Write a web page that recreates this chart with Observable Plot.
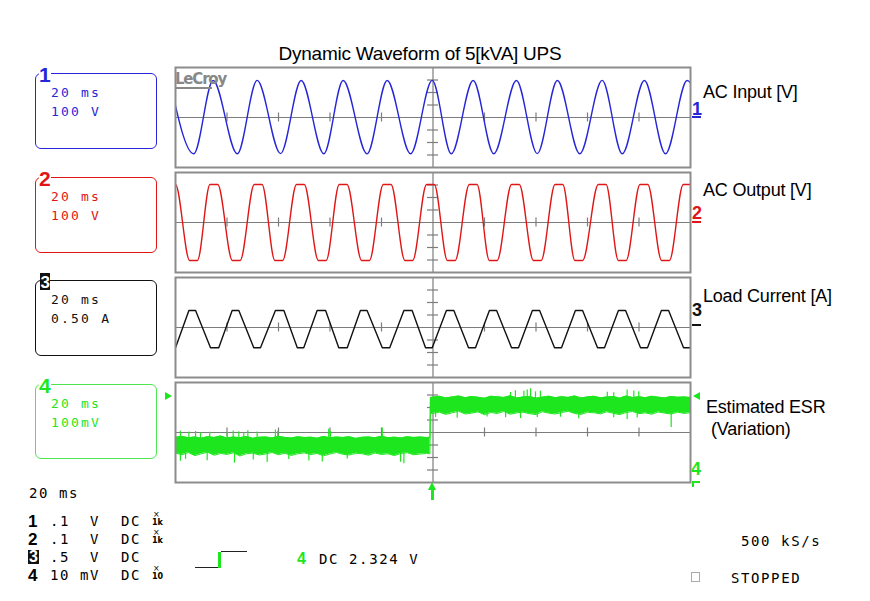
<!DOCTYPE html>
<html><head><meta charset="utf-8">
<script src="https://cdn.jsdelivr.net/npm/d3@7"></script>
<script src="https://cdn.jsdelivr.net/npm/@observablehq/plot@0.6"></script>
<style>
body{margin:0;background:#fff;}
#root{position:relative;width:870px;height:601px;overflow:hidden;background:#fff;}
.t{position:absolute;white-space:pre;line-height:1;}
.abs{position:absolute;}
</style></head><body><div id="root"></div><script>
// ---------------- data ----------------
const title = "Dynamic Waveform of 5[kVA] UPS";
const channelNames = ["AC Input [V]", "AC Output [V]", "Load Current [A]", "Estimated ESR", "(Variation)"];
const timePerDiv = "20 ms";
const channelScaleText = ["100 V", "100 V", "0.50 A", "100mV"];
const voltsPerDiv = [100, 100, 0.5, 100];          // V, V, A, mV per division
const xTicks = [-80, -60, -40, -20, 20, 40, 60, 80];  // ms
const yTickDivs = [-3, -2, -1, 1, 2, 3];
const xDomain = [-100, 100];

// Ch1 AC input (ms, V) : peaks / troughs
const acInT = [-102.2, -92.9, -85.4, -76.0, -68.3, -59.2, -51.2, -42.4, -34.9, -25.6, -17.8, -8.7, -0.3, 7.1, 15.6, 23.6, 32.4, 40.5, 48.3, 57.0, 65.7, 73.5, 82.1, 90.3, 98.7, 107.0];
const acInV = [296, -290, 296, -290, 297, -289, 296, -290, 296, -291, 296, -290, 297, -290, 296, -290, 296, -289, 296, -290, 297, -290, 296, -290, 296, -290];

// Ch2 AC output (ms, V) : flat-top corners
const acOutT = [-103.0, -100.0, -94.5, -91.5, -86.6, -83.6, -77.9, -74.9, -69.4, -66.4, -61.4, -58.4, -53.0, -50.0, -44.5, -41.5, -36.4, -33.4, -27.7, -24.7, -19.3, -16.3, -10.9, -7.9, -2.5, 0.5, 5.6, 8.6, 14.1, 17.1, 21.9, 24.9, 30.5, 33.5, 39.0, 42.0, 47.4, 50.4, 55.1, 58.1, 64.2, 67.2, 72.0, 75.0, 80.4, 83.4, 88.8, 91.8, 97.2, 100.2, 105.6, 108.6];
const acOutV = [304, 304, -304, -304, 304, 304, -304, -304, 304, 304, -304, -304, 304, 304, -304, -304, 304, 304, -304, -304, 304, 304, -304, -304, 304, 304, -304, -304, 304, 304, -304, -304, 304, 304, -304, -304, 304, 304, -304, -304, 304, 304, -304, -304, 304, 304, -304, -304, 304, 304, -304, -304];

// Ch3 load current (ms, A) : trapezoid corners
const loadT = [-103.1, -100.0, -94.8, -92.2, -86.4, -83.2, -78.0, -75.4, -69.6, -67.0, -61.2, -57.9, -52.7, -50.2, -45.0, -41.7, -36.6, -33.3, -28.2, -25.6, -19.7, -16.8, -11.3, -8.1, -2.9, -0.3, 5.2, 8.1, 13.8, 16.5, 21.9, 24.7, 30.5, 33.2, 38.6, 41.4, 47.2, 49.9, 55.3, 58.1, 63.9, 66.6, 72.0, 74.8, 80.6, 83.3, 88.7, 91.5, 97.3, 100.0, 105.6];
const loadA = [-0.81, -0.81, 0.68, 0.68, -0.81, -0.81, 0.68, 0.68, -0.81, -0.81, 0.68, 0.68, -0.81, -0.81, 0.68, 0.68, -0.81, -0.81, 0.68, 0.68, -0.81, -0.81, 0.68, 0.68, -0.81, -0.81, 0.68, 0.68, -0.81, -0.81, 0.68, 0.68, -0.81, -0.81, 0.68, 0.68, -0.81, -0.81, 0.68, 0.68, -0.81, -0.81, 0.68, 0.68, -0.81, -0.81, 0.68, 0.68, -0.81, -0.81, 0.68];

// Ch4 estimated ESR (ms, mV) : noise band envelope
const esrT = [-100, -97.5, -95, -92.5, -90, -87.5, -85, -82.5, -80, -77.5, -75, -72.5, -70, -67.5, -65, -62.5, -60, -57.5, -55, -52.5, -50, -47.5, -45, -42.5, -40, -37.5, -35, -32.5, -30, -27.5, -25, -22.5, -20, -17.5, -15, -12.5, -10, -7.5, -5, -2.5, -1.2,
  -1, 2.5, 5, 7.5, 10, 12.5, 15, 17.5, 20, 22.5, 25, 27.5, 30, 32.5, 35, 37.5, 40, 42.5, 45, 47.5, 50, 52.5, 55, 57.5, 60, 62.5, 65, 67.5, 70, 72.5, 75, 77.5, 80, 82.5, 85, 87.5, 90, 92.5, 95, 97.5, 100];
const esrHi = [-38, -30, -42, -35, -45, -33, -40, -28, -44, -36, -41, -32, -46, -38, -35, -43, -30, -39, -44, -34, -40, -37, -45, -31, -42, -36, -40, -33, -47, -38, -35, -42, -30, -41, -37, -44, -34, -39, -36, -40, -38,
  280, 290, 276, 285, 292, 278, 288, 282, 274, 290, 286, 280, 294, 277, 284, 289, 275, 283, 291, 279, 287, 281, 293, 276, 285, 290, 278, 284, 288, 275, 292, 280, 286, 279, 290, 283, 277, 288, 282, 285, 280];
const esrLo = [-165, -178, -160, -185, -170, -158, -182, -168, -175, -162, -188, -170, -165, -180, -172, -160, -178, -166, -184, -170, -163, -176, -168, -186, -172, -160, -174, -180, -166, -170, -182, -164, -176, -170, -185, -168, -162, -178, -172, -168, -170,
  150, 162, 145, 158, 170, 148, 155, 165, 142, 160, 152, 168, 146, 157, 163, 150, 144, 166, 155, 148, 160, 170, 152, 145, 162, 158, 149, 166, 154, 143, 160, 168, 151, 157, 146, 164, 155, 148, 162, 153, 158];
const esrStepTime = -1;
const esrLevelBefore = -105, esrLevelAfter = 215;
const spikeT = [-98.1, -94.8, -92.2, -90.3, -86.7, -79.9, -77.6, -75.4, -73.5, -71.9, -68.3, -61.2, -60.3, -40.5, -39.8, -19.7,
  -98.1, -96.1, -87.7, -77.1, -69.8, -64.4, -56.0, -48.2, -43.0, -33.3, -12.6, -11.3,
  30.1, 32.0, 35.3, 36.6, 37.9, 39.8, 41.7, 67.7, 70.2, 75.4, 78.0, 79.9,
  1.0, 9.4, 21.0, 28.2, 34.0, 40.5, 49.5, 56.6, 70.2, 75.4, 79.3, 92.5];
const spikeTip = [10, 5, 8, -5, 2, 0, 12, 6, -3, 15, 4, 20, 10, 27, 8, 37,
  -230, -215, -225, -245, -220, -240, -215, -228, -235, -212, -238, -250,
  320, 335, 330, 340, 350, 325, 330, 322, 318, 340, 332, 326,
  120, 115, 125, 118, 112, 120, 122, 110, 118, 105, 116, 40];

// bottom status
const statusRows = [
  {ch: "1", val: ".1", unit: "V", cpl: "DC", probe: "1k"},
  {ch: "2", val: ".1", unit: "V", cpl: "DC", probe: "1k"},
  {ch: "3", val: ".5", unit: "V", cpl: "DC", probe: ""},
  {ch: "4", val: "10", unit: "mV", cpl: "DC", probe: "10"}
];
const triggerText = "DC 2.324 V";
const sampleRate = "500 kS/s";
const acqState = "STOPPED";

// ---------------- styles ----------------
const BLUE = "#2626d8", RED = "#e01515", BLACK = "#111", GREEN = "#1ee61e", GRID = "#7c7c7c", FRAME = "#8c8c8c";
const MONO = '"DejaVu Sans Mono", monospace';
const SANS = '"Liberation Sans", Arial, sans-serif';
const root = document.getElementById("root");

function txt(s, x, base, o = {}) {
  const size = o.size || 13;
  const el = document.createElement("div");
  el.className = "t";
  el.textContent = s;
  Object.assign(el.style, {
    left: x + "px", top: (base - 0.846 * size) + "px", fontSize: size + "px",
    fontFamily: o.family || MONO, color: o.color || "#000", fontWeight: o.weight || "normal",
    letterSpacing: (o.spacing ?? 0) + "px", background: o.bg || "transparent"
  });
  if (o.anchor === "middle") el.style.transform = "translateX(-50%)";
  root.appendChild(el);
  return el;
}
function rect(x, y, w, h, css) {
  const el = document.createElement("div");
  el.className = "abs";
  Object.assign(el.style, {left: x + "px", top: y + "px", width: w + "px", height: h + "px"}, css || {});
  root.appendChild(el);
  return el;
}

// ---------------- panels ----------------
const zip = (T, V) => T.map((t, i) => ({t, v: V[i]}));
const esr = esrT.map((t, i) => ({t, lo: esrLo[i], hi: esrHi[i]}));
const spikes = spikeT.map((t, i) => ({t, tip: spikeTip[i], base: t < esrStepTime ? esrLevelBefore : esrLevelAfter}));

function panel(top, idx, marks) {
  const s = voltsPerDiv[idx];
  const svg = Plot.plot({
    width: 525, height: 110, marginLeft: 5, marginRight: 5, marginTop: 5, marginBottom: 5,
    x: {domain: xDomain, axis: null},
    y: {domain: [-4 * s, 4 * s], axis: null},
    style: {background: "transparent", overflow: "visible"},
    marks: [
      Plot.ruleY([0], {stroke: GRID, strokeWidth: 1.2}),
      Plot.ruleX([0], {stroke: GRID, strokeWidth: 1.2}),
      Plot.ruleX(xTicks, {x: d => d, insetTop: 45.5, insetBottom: 45.5, stroke: GRID, strokeWidth: 1.2}),
      Plot.ruleY(yTickDivs, {y: d => d * s, insetLeft: 252, insetRight: 252, stroke: GRID, strokeWidth: 1.2}),
      ...marks,
      Plot.frame({stroke: FRAME, strokeWidth: 2})
    ]
  });
  svg.style.position = "absolute";
  svg.style.left = "170px";
  svg.style.top = (top - 5) + "px";
  root.appendChild(svg);
}

panel(67, 0, [Plot.line(zip(acInT, acInV), {x: "t", y: "v", stroke: BLUE, strokeWidth: 1.4, curve: "monotone-x", clip: true})]);
panel(172, 1, [Plot.line(zip(acOutT, acOutV), {x: "t", y: "v", stroke: RED, strokeWidth: 1.4, curve: "monotone-x", clip: true})]);
panel(277, 2, [Plot.line(zip(loadT, loadA), {x: "t", y: "v", stroke: BLACK, strokeWidth: 1.4, curve: "linear", clip: true})]);
panel(382, 3, [
  Plot.areaY(esr, {x: "t", y1: "lo", y2: "hi", fill: GREEN, curve: "linear", clip: true}),
  Plot.line(esr, {x: "t", y: "hi", stroke: GREEN, strokeWidth: 1, clip: true}),
  Plot.line(esr, {x: "t", y: "lo", stroke: GREEN, strokeWidth: 1, clip: true}),
  Plot.ruleX(spikes, {x: "t", y1: "base", y2: "tip", stroke: GREEN, strokeWidth: 1.2, clip: true})
]);

// ---------------- texts ----------------
txt(title, 420, 60, {family: SANS, size: 19, anchor: "middle", spacing: -0.25});
txt("LeCroy", 175, 85, {family: '"DejaVu Sans", sans-serif', size: 15, weight: "bold", color: "#888", spacing: -1.2});
rect(175, 87, 37, 1.5, {background: "#888"});

// right labels
txt(channelNames[0], 703, 98, {family: SANS, size: 18, spacing: -0.2});
txt(channelNames[1], 703, 196, {family: SANS, size: 18, spacing: -0.2});
txt(channelNames[2], 703, 302, {family: SANS, size: 18, spacing: -0.2});
txt(channelNames[3], 706, 413, {family: SANS, size: 18, spacing: -0.2});
txt(channelNames[4], 711, 435, {family: SANS, size: 18, spacing: -0.2});

// right channel markers at zero level
const chColors = [BLUE, RED, BLACK, GREEN];
[[115, 117], [219.5, 222], [316, 325]].forEach(([b, u], i) => {
  txt(String(i + 1), 692, b, {family: SANS, size: 18, weight: "bold", color: chColors[i]});
  rect(692, u - 1, 9, 2, {background: chColors[i]});
});
txt("4", 691, 475, {family: SANS, size: 18, weight: "bold", color: GREEN});
// trigger level markers
rect(165, 392, 0, 0, {borderTop: "4px solid transparent", borderBottom: "4px solid transparent", borderLeft: "7px solid " + GREEN});
rect(693, 392, 0, 0, {borderTop: "4px solid transparent", borderBottom: "4px solid transparent", borderRight: "7px solid " + GREEN});
// trigger position arrow
rect(428, 482, 0, 0, {borderLeft: "4.5px solid transparent", borderRight: "4.5px solid transparent", borderBottom: "8px solid " + GREEN});
rect(431, 488, 3, 12, {background: GREEN});
// bottom-right corner marker
rect(692, 481, 8, 2, {background: GREEN});
rect(692, 481, 2, 6, {background: GREEN});

// left channel boxes
const boxTops = [73, 177, 280, 384];
boxTops.forEach((y, i) => {
  const c = chColors[i];
  rect(35, y, 122, i === 3 ? 75 : 76, {border: "1.5px solid " + (i === 3 ? "#4ee64e" : c), borderRadius: "6px", boxSizing: "border-box"});
  txt(timePerDiv, 51, y + 24, {size: 13, spacing: 2.2, color: c});
  txt(channelScaleText[i], 51, y + 43, {size: 13, spacing: 2.2, color: c});
  if (i === 2) {
    rect(40, y - 7, 10, 17, {background: "#111"});
    txt("3", 40.5, y + 8, {family: SANS, size: 17, weight: "bold", color: "#fff"});
  } else {
    txt(String(i + 1), 39, y + 9, {family: SANS, size: 21, weight: "bold", color: c, bg: "#fff"});
  }
});

// bottom status block
txt(timePerDiv, 29, 498, {size: 14, spacing: 1.6});
const rowBase = [527, 545, 563, 581];
statusRows.forEach((r, i) => {
  const b = rowBase[i];
  if (r.ch === "3") {
    rect(28, b - 13, 11, 14, {background: "#111"});
    txt(r.ch, 29, b, {family: SANS, size: 16, weight: "bold", color: "#fff"});
  } else {
    txt(r.ch, 28, b, {family: SANS, size: 17, weight: "bold"});
  }
  txt(r.val, 50, b - 1.5, {size: 14, spacing: 1.6});
  txt(r.unit, r.unit.length > 1 ? 80 : 90, b - 1.5, {size: 14, spacing: 1.6});
  txt(r.cpl, 121, b - 1.5, {size: 14, spacing: 1.6});
  if (r.probe) {
    txt("×", 153, b - 9, {size: 8, family: '"DejaVu Sans", sans-serif'});
    txt(r.probe, 152, b - 1, {size: 8, family: '"DejaVu Sans", sans-serif', weight: "bold"});
  }
});
// trigger step icon
rect(195, 567, 23, 1.2, {background: "#222"});
rect(218, 551.5, 2.5, 16.5, {background: GREEN});
rect(220.5, 551, 26, 1.2, {background: "#222"});
txt("4", 297, 564.5, {family: SANS, size: 16, weight: "bold", color: GREEN});
txt(triggerText, 319, 564, {size: 14, spacing: 1.6});

txt(sampleRate, 741, 545.5, {size: 14, spacing: 1.6});
rect(691, 572, 9, 10, {border: "1px solid #aaa", boxSizing: "border-box"});
txt(acqState, 731, 583, {size: 14, spacing: 1.6});
</script></body></html>
